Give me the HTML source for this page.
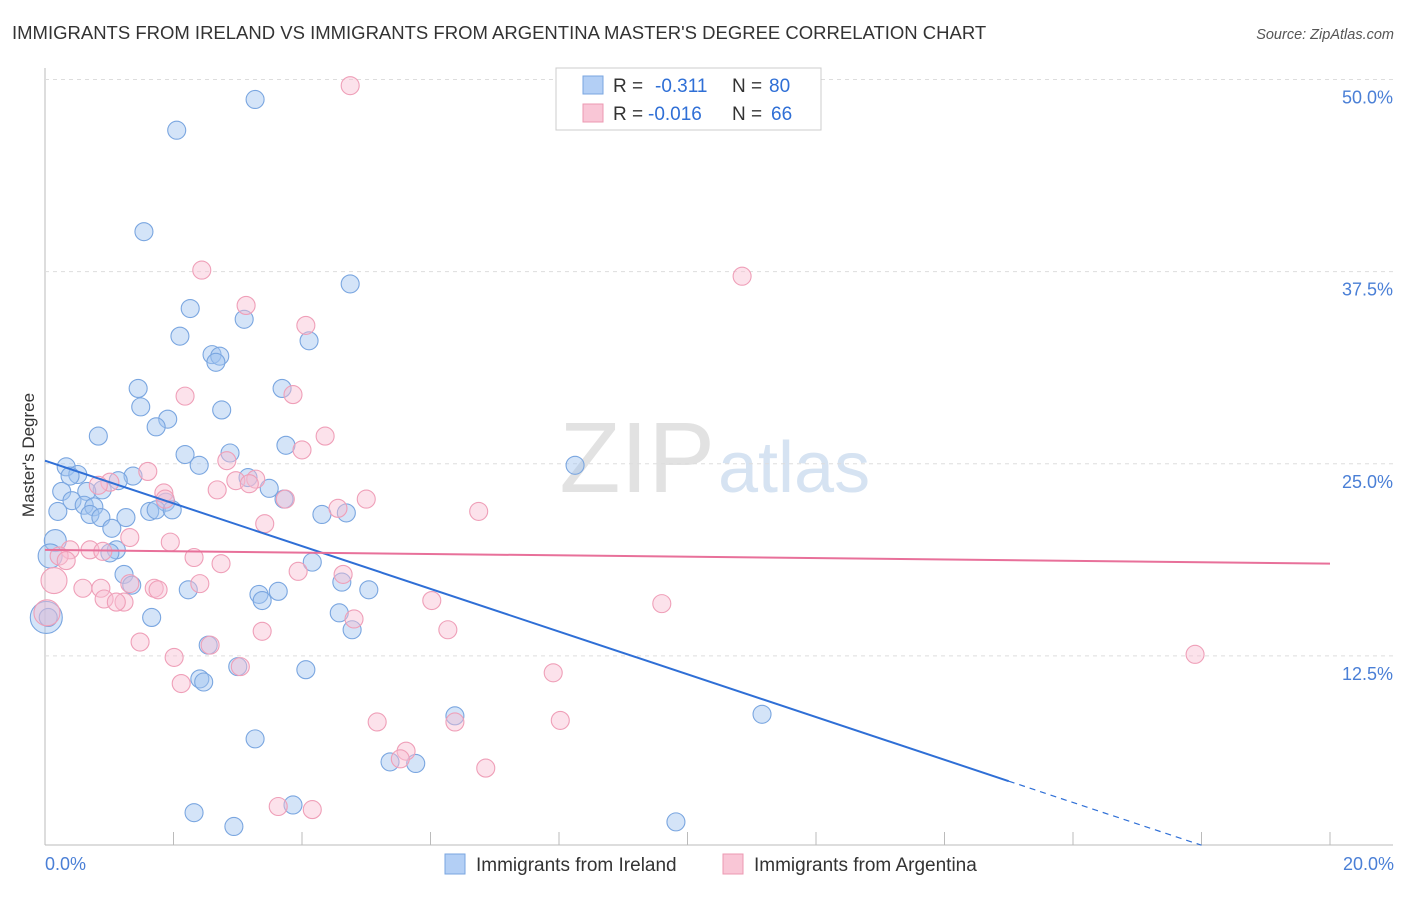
<!DOCTYPE html>
<html><head><meta charset="utf-8"><style>
body{margin:0;background:#fff;font-family:"Liberation Sans",sans-serif;}
svg text{font-family:"Liberation Sans",sans-serif;}
</style></head><body>
<svg id="c" width="1406" height="892">
<text x="12" y="39" font-size="18.5" fill="#333">IMMIGRANTS FROM IRELAND VS IMMIGRANTS FROM ARGENTINA MASTER'S DEGREE CORRELATION CHART</text>
<text x="1394" y="39" font-size="14.5" fill="#555" font-style="italic" text-anchor="end">Source: ZipAtlas.com</text>
<text x="715" y="492" font-size="100" fill="#e2e2e2" text-anchor="end" font-family="Liberation Serif">ZIP</text>
<text x="718" y="492" font-size="72" fill="#d6e3f2">atlas</text>
<text x="34" y="455" font-size="17" fill="#333" text-anchor="middle" transform="rotate(-90 34 455)">Master's Degree</text>
<g id="grid"></g><g id="pts"></g><g id="lines"></g>
<g>
<rect x="556" y="68" width="265" height="62" fill="#fff" stroke="#ccc"/>
<rect x="583" y="76" width="20" height="18" fill="#b3cff5" stroke="#7aa6e0"/>
<rect x="583" y="104" width="20" height="18" fill="#f9c6d6" stroke="#ec98b2"/>
<text x="613" y="92" font-size="19" fill="#333">R =</text>
<text x="655" y="92" font-size="19" fill="#2f6fd6">-0.311</text>
<text x="732" y="92" font-size="19" fill="#333">N =</text>
<text x="769" y="92" font-size="19" fill="#2f6fd6">80</text>
<text x="613" y="120" font-size="19" fill="#333">R =</text>
<text x="648" y="120" font-size="19" fill="#2f6fd6">-0.016</text>
<text x="732" y="120" font-size="19" fill="#333">N =</text>
<text x="771" y="120" font-size="19" fill="#2f6fd6">66</text>
</g>
<g>
<rect x="445" y="854" width="20" height="20" fill="#b3cff5" stroke="#7aa6e0"/>
<text x="476" y="871" font-size="19" fill="#333">Immigrants from Ireland</text>
<rect x="723" y="854" width="20" height="20" fill="#f9c6d6" stroke="#ec98b2"/>
<text x="754" y="871" font-size="19" fill="#333">Immigrants from Argentina</text>
</g>
<text x="45" y="870" font-size="18" fill="#4a7fd6">0.0%</text>
<text x="1394" y="870" font-size="18" fill="#4a7fd6" text-anchor="end">20.0%</text>
</svg>
<script>
const yTicks=[12.5,25,37.5,50];
const yTickLabels=["12.5%","25.0%","37.5%","50.0%"];
const xTicks=[0,2,4,6,8,10,12,14,16,18,20];
const irelandX=[3.27,2.05,1.54,4.75,2.26,3.1,2.1,4.11,2.6,2.72,2.66,1.45,3.69,1.49,2.75,1.91,1.73,0.83,3.75,2.88,2.18,2.4,0.33,8.25,0.51,0.39,1.37,1.14,3.16,0.89,0.65,0.26,3.49,3.72,1.88,0.42,0.61,0.76,0.2,1.63,1.73,1.98,1.26,0.7,0.87,4.31,4.69,1.04,0.16,1.11,1.01,4.16,1.23,1.35,2.23,3.63,5.04,3.33,3.38,4.62,4.58,1.66,4.78,0.02,2.54,4.06,3.0,2.41,2.47,6.38,11.16,3.27,5.37,5.77,3.86,2.32,2.94,9.82,0.08,0.05];
const irelandY=[48.7,46.7,40.1,36.7,35.1,34.4,33.3,33.0,32.1,32.0,31.6,29.9,29.9,28.7,28.5,27.9,27.4,26.8,26.2,25.7,25.6,24.9,24.8,24.9,24.3,24.2,24.2,23.9,24.1,23.3,23.2,23.2,23.4,22.7,22.5,22.6,22.3,22.2,21.9,21.9,22.0,22.0,21.5,21.7,21.5,21.7,21.8,20.8,20.0,19.4,19.2,18.6,17.8,17.1,16.8,16.7,16.8,16.5,16.1,17.3,15.3,15.0,14.2,15.0,13.2,11.6,11.8,11.0,10.8,8.6,8.7,7.1,5.6,5.5,2.8,2.3,1.4,1.7,19.0,15.0];
const irelandR=[9,9,9,9,9,9,9,9,9,9,9,9,9,9,9,9,9,9,9,9,9,9,9,9,9,9,9,9,9,9,9,9,9,9,9,9,9,9,9,9,9,9,9,9,9,9,9,9,11,9,9,9,9,9,9,9,9,9,9,9,9,9,9,16,9,9,9,9,9,9,9,9,9,9,9,9,9,9,12,9];
const argX=[4.75,2.44,10.85,3.13,4.06,2.18,3.86,4.36,4.0,1.6,2.83,3.28,2.97,3.18,1.01,0.83,1.85,2.68,1.87,3.74,5.0,4.56,6.75,3.42,1.32,1.95,0.39,0.7,0.9,0.22,0.33,2.32,2.74,3.94,4.64,1.32,1.7,2.41,0.59,0.87,1.76,0.92,1.23,1.11,6.02,9.6,4.81,6.27,3.38,1.48,2.57,2.01,17.9,3.04,2.12,7.91,5.17,8.02,6.38,5.62,5.53,6.86,3.63,4.16,0.14,0.03];
const argY=[49.6,37.6,37.2,35.3,34.0,29.4,29.5,26.8,25.9,24.5,25.2,24.0,23.9,23.7,23.8,23.6,23.1,23.3,22.7,22.7,22.7,22.1,21.9,21.1,20.2,19.9,19.4,19.4,19.3,19.0,18.7,18.9,18.5,18.0,17.8,17.2,16.9,17.2,16.9,16.9,16.8,16.2,16.0,16.0,16.1,15.9,14.9,14.2,14.1,13.4,13.2,12.4,12.6,11.8,10.7,11.4,8.2,8.3,8.2,6.3,5.8,5.2,2.7,2.5,17.4,15.3];
const argR=[9,9,9,9,9,9,9,9,9,9,9,9,9,9,9,9,9,9,9,9,9,9,9,9,9,9,9,9,9,9,9,9,9,9,9,9,9,9,9,9,9,9,9,9,9,9,9,9,9,9,9,9,9,9,9,9,9,9,9,9,9,9,9,9,13,13];
const irelandTrend=[25.2,-1.39];  // intercept, slope(per 1%)
const argTrend=[19.4,-0.045];
const X=v=>45+v*64.25, Y=v=>848-v*15.37;
const NS="http://www.w3.org/2000/svg";
function mk(t,a,p){const e=document.createElementNS(NS,t);for(const k in a)e.setAttribute(k,a[k]);p.appendChild(e);return e;}
const g=document.getElementById('grid');
mk('line',{x1:45,y1:845,x2:1393,y2:845,stroke:'#bbb'},g);
mk('line',{x1:45,y1:68,x2:45,y2:845,stroke:'#bbb'},g);
yTicks.forEach((t,i)=>{
 const l=mk('line',{x1:45,y1:Y(t),x2:1393,y2:Y(t),stroke:'#ddd','stroke-dasharray':'4,4'},g);
 
 
 const tx=mk('text',{x:1393,y:Y(t)+24,'font-size':18,fill:'#4a7fd6','text-anchor':'end'},g);
 tx.textContent=yTickLabels[i];
 
 
});
xTicks.forEach(t=>{
 const l=mk('line',{x1:X(t),y1:832,x2:X(t),y2:845,stroke:'#bbb'},g);
 
 
});
const p=document.getElementById('pts');
irelandX.forEach((x,i)=>{
 const c=mk('circle',{cx:X(x),cy:Y(irelandY[i]),r:irelandR[i],fill:'rgba(160,195,240,0.45)',stroke:'#7aa6e0','stroke-width':1.1},p);
 
 
});
argX.forEach((x,i)=>{
 const c=mk('circle',{cx:X(x),cy:Y(argY[i]),r:argR[i],fill:'rgba(248,190,210,0.45)',stroke:'#ef9fb8','stroke-width':1.1},p);
 
 
});
const L=document.getElementById('lines');
const f=(tr,x)=>tr[0]+tr[1]*x;
let a=mk('line',{x1:X(0),y1:Y(f(irelandTrend,0)),x2:X(15),y2:Y(f(irelandTrend,15)),stroke:'#2f6fd6','stroke-width':2},L);


a=mk('line',{x1:X(15),y1:Y(f(irelandTrend,15)),x2:X(18),y2:Y(f(irelandTrend,18)),stroke:'#2f6fd6','stroke-width':1.2,'stroke-dasharray':'6,5'},L);


a=mk('line',{x1:X(0),y1:Y(f(argTrend,0)),x2:X(20),y2:Y(f(argTrend,20)),stroke:'#e8709a','stroke-width':2},L);


</script>
</body></html>
